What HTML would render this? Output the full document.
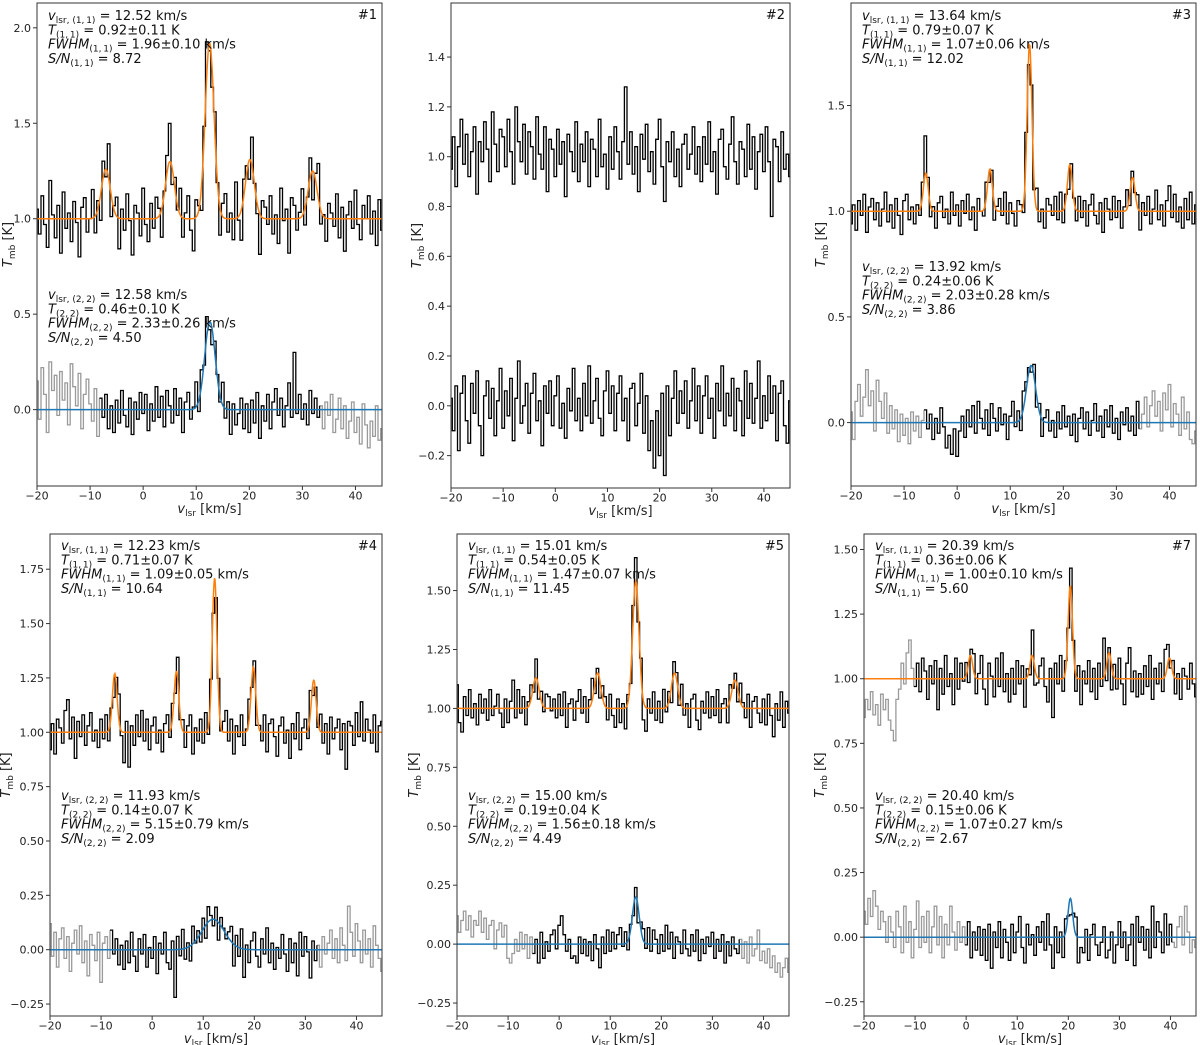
<!DOCTYPE html>
<html><head><meta charset="utf-8"><style>
html,body{margin:0;padding:0;background:#fff;}
svg{display:block;font-family:"DejaVu Sans","Liberation Sans",sans-serif;}
</style></head><body>
<svg id="fig" width="1200" height="1045" viewBox="0 0 1200 1045" xmlns="http://www.w3.org/2000/svg"></svg>
<script>
// ---- data (velocity grid: -20 km/s, step 0.5 km/s) ----
const vStart = -20, vStep = 0.5;
const hfOffsets = [-19.55, -7.47, 7.59, 19.41];
// fit params [vlsr, T, FWHM]
const p1Fit11 = [12.52, 0.92, 1.96], p1Sat = [0.26, 0.30, 0.31, 0.25], p1Fit22 = [12.58, 0.46, 2.33];
const p3Fit11 = [13.64, 0.79, 1.07], p3Sat = [0.18, 0.20, 0.22, 0.16], p3Fit22 = [13.92, 0.27, 2.03];
const p4Fit11 = [12.23, 0.71, 1.09], p4Sat = [0.27, 0.28, 0.30, 0.24], p4Fit22 = [11.93, 0.14, 5.15];
const p5Fit11 = [15.01, 0.54, 1.47], p5Sat = [0.13, 0.15, 0.15, 0.12], p5Fit22 = [15.00, 0.20, 1.56];
const p6Fit11 = [20.39, 0.36, 1.00], p6Sat = [0.09, 0.09, 0.10, 0.08], p6Fit22 = [20.40, 0.15, 1.07];
// residuals (0.01 K)
const p1Res11 = [5,-8,12,-3,-15,20,2,-10,7,-18,14,-5,3,-12,9,-2,-20,6,11,-7,0,15,-9,4,-14,8,-4,18,-11,2,10,-16,5,-6,13,-1,-19,7,3,-9,16,-3,-12,8,-5,11,4,-15,1,9,20,-8,6,-2,14,-10,3,12,-6,-17,9,2,-13,5,17,-4,-9,10,0,-14,7,13,-7,3,-11,19,-2,-16,8,4,-10,15,1,-5,-21,9,6,-3,12,-8,2,-13,16,-1,5,-18,11,7,-6,3,14,-9,-2,10,-15,4,18,-7,1,-12,8,3,-4,13,-10,6,-17,2,9,-5,15,-3,-11,7,0,12,-8,4,-14,10,-6];
const p1Res22 = [15,-5,22,8,-12,25,10,18,-3,20,5,14,-8,24,12,2,19,-10,8,16,3,-6,11,-14,6,-4,8,-10,2,-12,5,-7,10,-3,-9,6,-13,4,-5,9,-2,8,-11,3,-6,12,-4,7,-9,10,2,-7,11,-3,6,-12,4,9,-5,1,13,-6,8,-2,10,-4,-8,6,2,-3,12,-5,4,-13,3,-8,-2,6,-10,3,-12,5,-7,9,-15,2,-6,8,-10,4,11,-3,6,-9,2,14,-4,30,-2,8,-5,3,-8,10,-2,6,-4,2,-10,4,-3,8,-12,-5,6,-10,2,-15,-6,4,-12,-4,-18,3,-8,-20,-6,-14,2,-16,-10];
const p2Res11 = [-5,8,-12,4,15,-3,9,-8,2,12,-15,6,-2,14,3,-10,18,5,-6,11,8,-4,15,2,-11,20,6,-2,13,-7,10,4,-9,16,1,-5,12,-14,7,3,-8,11,-3,6,-16,9,2,-6,14,-10,5,-2,10,-12,7,3,-8,15,-4,1,-13,8,-5,12,2,-9,6,28,-3,10,-7,4,-14,9,-1,13,-6,2,-11,7,15,-4,-18,6,-2,10,-8,3,-12,5,9,-5,1,12,-7,4,-10,8,-3,14,-6,2,-15,7,11,-4,-9,5,16,-2,-11,6,3,-8,13,-5,8,-13,2,9,-6,12,-2,-24,7,4,-10,10,-5,1,-8];
const p2Res22 = [3,-10,8,-18,5,12,-6,-15,9,-3,14,-8,-20,4,10,-5,7,-12,2,15,-9,6,-4,11,-14,3,18,-7,0,9,-11,5,13,-6,2,-16,8,-3,10,-8,4,12,-9,1,-13,7,-2,15,-6,3,-10,9,-4,16,-7,2,11,-5,-12,6,14,-3,8,-10,5,12,-6,3,-14,7,9,-8,1,13,-11,4,-18,-6,-25,-2,-20,5,-28,8,-12,3,14,-7,6,-3,10,-9,2,15,-6,8,-11,4,12,-5,3,-13,9,-2,16,-8,5,-4,11,-10,7,2,-12,14,-5,9,-7,3,18,-9,4,-6,12,-3,8,-14,5,10,-8,-15,2];
const p3Res11 = [-6,3,-9,5,-2,8,-10,2,6,-4,4,-7,1,9,-5,3,-8,6,-2,-11,5,8,-4,2,-6,3,-3,6,18,4,-5,2,-8,4,7,-3,1,-6,9,-2,3,-7,5,-1,8,-4,2,-9,6,0,-3,7,-5,4,-8,2,6,-2,9,-6,4,-1,-7,5,3,-4,8,-6,2,-3,10,-5,1,-8,6,3,-2,7,-4,9,-6,2,-9,4,1,-5,7,-3,5,-7,3,8,-2,-6,4,-10,6,1,-4,7,-3,5,-8,2,9,-5,3,-1,6,-9,4,-2,7,-6,1,10,-4,3,-7,5,12,-3,8,-5,2,-8,6,-4,9,-6,3];
const p3Res22 = [5,-8,10,18,3,12,25,8,15,-4,20,10,2,14,-5,8,-3,6,-9,4,-6,2,-10,5,-4,3,-7,1,6,-3,4,-8,2,-5,7,-2,-12,-6,-15,-3,-16,-4,3,-7,6,-2,8,-5,10,2,-3,6,-6,9,2,-4,7,-1,4,-8,3,10,-2,5,-6,8,4,2,-3,6,-5,4,-8,2,6,-4,1,-7,5,-3,8,-2,3,-6,4,-9,2,7,-3,5,-6,1,9,-4,3,-7,6,-2,8,-5,2,-8,5,-1,7,-4,3,-6,10,-3,4,12,-2,8,15,3,10,-4,14,6,18,-2,9,4,-6,12,-3,5,-8,-10,-4];
const p4Res11 = [-8,4,-10,6,2,-5,10,15,-3,7,-12,5,-2,8,-6,3,9,-4,1,-7,6,-3,8,-5,2,-9,4,12,-2,-14,5,-16,3,-6,8,-2,10,-4,6,-8,3,7,-5,1,-9,4,8,-3,6,-6,10,-2,5,-7,3,8,-10,2,-4,6,-5,9,-3,4,-8,2,7,-1,5,10,-4,6,-10,3,-2,8,-6,1,9,-3,5,-7,2,-4,8,-9,4,6,-2,-11,3,7,-5,1,-12,4,-3,9,-8,2,6,-4,10,-6,3,-2,8,-5,4,-10,7,-3,2,6,-8,4,-17,5,3,-6,9,-2,14,-4,6,1,-5,8,-9,3,5];
const p4Res22 = [12,-3,8,-8,5,10,-4,6,-10,3,9,-2,11,-6,4,-12,7,2,-5,8,-15,3,6,-4,9,-2,5,-7,2,-9,4,-6,8,-3,-10,5,-2,7,-8,1,-4,6,-11,3,-2,8,-6,-9,4,-22,6,-3,9,-5,2,-7,8,-1,3,-4,5,-6,7,2,-3,6,-8,4,1,-2,3,7,-10,5,-4,9,-13,2,-6,4,8,-3,-8,5,-2,10,-6,3,-9,1,-4,7,-2,-10,5,-6,3,-12,8,-3,6,-1,-13,4,-5,2,-8,6,-2,3,9,-4,5,-6,10,2,-5,20,8,-3,12,4,-6,9,-2,5,-8,11,2,-4,-10];
const p5Res11 = [10,-6,-10,5,-3,8,-4,2,-7,6,-2,4,-5,8,-3,1,6,-2,-8,4,-6,3,12,-4,8,-2,5,-7,2,6,-3,8,-5,4,-2,6,5,-1,4,-4,6,-3,7,-8,2,4,-5,3,8,-2,5,-6,3,9,-4,2,-7,5,4,-5,6,-3,-8,4,-6,2,-9,3,-4,5,10,-3,6,-8,-10,4,-2,7,-5,3,-6,8,-2,4,-7,5,3,-4,9,-3,2,-8,4,6,-5,-9,3,-2,7,-4,5,-3,8,-6,2,4,-7,6,-1,3,-5,8,2,-4,6,-8,3,5,-2,-6,4,-7,6,-3,-12,2,-5,7,-8,3,-2];
const p5Res22 = [12,5,10,14,6,12,3,10,8,14,5,11,2,8,10,-2,6,9,3,8,-6,-8,-4,2,-3,5,-2,4,-6,3,-4,2,-8,5,-6,1,-3,4,6,-2,8,12,4,-3,2,-6,-5,-8,3,-4,2,-5,1,-7,4,-2,-10,3,-4,6,-3,5,-2,4,7,-1,5,-4,2,-3,4,-6,3,5,-2,7,-3,6,2,-4,4,-3,8,-2,5,-6,3,1,-4,6,-2,-5,4,-3,6,-7,2,-4,3,-1,5,-6,2,-3,4,-8,1,-5,3,-2,-4,2,-6,1,-8,3,-5,-2,6,-7,-3,-8,-2,-10,-5,-12,-8,-14,-10,-6,-12];
const p6Res11 = [-15,-8,-12,-5,-14,-10,-18,-6,-12,-8,-16,-20,-24,-8,-4,6,-2,10,15,4,-3,6,-5,8,3,-8,5,-2,7,-12,4,-6,9,-3,2,-10,8,-4,6,-1,5,-8,3,7,-6,2,9,-4,-10,6,1,-7,8,-3,10,-5,2,-9,4,-6,7,-2,5,-11,3,-4,10,-6,-2,5,8,-3,-9,4,-15,6,-2,9,-5,3,-4,8,2,-6,5,-10,3,-2,7,-5,4,-8,6,-3,15,-6,2,-9,5,-4,8,-2,-10,6,12,-5,3,-7,2,-6,5,-3,9,-8,4,-2,6,-5,10,7,-3,5,-6,2,-8,4,1,-4,6,-2,-7];
const p6Res22 = [10,5,15,8,18,12,3,10,6,-2,8,2,-4,10,4,-6,12,-2,6,-8,3,14,-4,8,-2,10,-6,4,12,-3,8,-8,5,-3,12,2,-5,6,-2,4,-3,6,-8,2,-5,4,-7,3,-9,5,-12,2,-4,6,-8,3,-2,-9,5,-6,2,8,-4,-10,5,-3,1,-7,4,-2,6,-5,9,-3,-12,4,-6,2,-8,5,-2,-6,3,7,-10,-4,-6,3,-9,1,5,-3,-7,-2,4,-8,-5,2,-10,-3,6,-4,2,-9,-3,5,-11,8,-2,4,-5,3,-8,12,-4,6,2,-6,9,-3,5,-2,-4,4,8,-3,12,2,-6,-1,-4];
// axis tick labels
const xTickLabels = ["\u221220","\u221210","0","10","20","30","40"];
const xTickValues = [-20,-10,0,10,20,30,40];
const yTicksP1 = [0.0,0.5,1.0,1.5,2.0];
const yTicksP2 = [-0.2,0.0,0.2,0.4,0.6,0.8,1.0,1.2,1.4];
const yTicksP3 = [0.0,0.5,1.0,1.5];
const yTicksB = [-0.25,0.00,0.25,0.50,0.75,1.00,1.25,1.50,1.75];

// ---- layout ----
const panels = [
 {id:"1",x0:37,x1:382,y0:3,y1:486,ymin:-0.40,ymax:2.13,yt:yTicksP1,dec:1,ylx:7,
  r11:p1Res11,r22:p1Res22,f11:p1Fit11,sat:p1Sat,f22:p1Fit22,g11:null,g22:[-8,33],t1:15,t2:294,
  L:[["12.52 km/s","0.92\u00b10.11 K","1.96\u00b10.10 km/s","8.72"],["12.58 km/s","0.46\u00b10.10 K","2.33\u00b10.26 km/s","4.50"]]},
 {id:"2",x0:451,x1:790,y0:3,y1:488,ymin:-0.33,ymax:1.617,yt:yTicksP2,dec:1,ylx:416,
  r11:p2Res11,r22:p2Res22,f11:null,sat:null,f22:null,g11:null,g22:null,t1:15,t2:0,L:null},
 {id:"3",x0:851,x1:1196,y0:3,y1:486,ymin:-0.30,ymax:1.985,yt:yTicksP3,dec:1,ylx:820,
  r11:p3Res11,r22:p3Res22,f11:p3Fit11,sat:p3Sat,f22:p3Fit22,g11:null,g22:[-6,34],t1:15,t2:266,
  L:[["13.64 km/s","0.79\u00b10.07 K","1.07\u00b10.06 km/s","12.02"],["13.92 km/s","0.24\u00b10.06 K","2.03\u00b10.28 km/s","3.86"]]},
 {id:"4",x0:50,x1:382,y0:534,y1:1016,ymin:-0.305,ymax:1.912,yt:yTicksB,dec:2,ylx:5,
  r11:p4Res11,r22:p4Res22,f11:p4Fit11,sat:p4Sat,f22:p4Fit22,g11:null,g22:[-8,32],t1:545,t2:795,
  L:[["12.23 km/s","0.71\u00b10.07 K","1.09\u00b10.05 km/s","10.64"],["11.93 km/s","0.14\u00b10.07 K","5.15\u00b10.79 km/s","2.09"]]},
 {id:"5",x0:457,x1:789,y0:534,y1:1016,ymin:-0.305,ymax:1.74,yt:yTicksB,dec:2,ylx:413,
  r11:p5Res11,r22:p5Res22,f11:p5Fit11,sat:p5Sat,f22:p5Fit22,g11:null,g22:[-5,35],t1:545,t2:795,
  L:[["15.01 km/s","0.54\u00b10.05 K","1.47\u00b10.07 km/s","11.45"],["15.00 km/s","0.19\u00b10.04 K","1.56\u00b10.18 km/s","4.49"]]},
 {id:"7",x0:864,x1:1196,y0:534,y1:1016,ymin:-0.305,ymax:1.56,yt:yTicksB,dec:2,ylx:819,
  r11:p6Res11,r22:p6Res22,f11:p6Fit11,sat:p6Sat,f22:p6Fit22,g11:[-10,46],g22:[0,40],t1:545,t2:795,
  L:[["20.39 km/s","0.36\u00b10.06 K","1.00\u00b10.10 km/s","5.60"],["20.40 km/s","0.15\u00b10.06 K","1.07\u00b10.27 km/s","2.67"]]}
];

const NS = "http://www.w3.org/2000/svg";
const fig = document.getElementById("fig");
function mk(tag, attrs, parent){ const e=document.createElementNS(NS,tag); for(const k in attrs) e.setAttribute(k,attrs[k]); (parent||fig).appendChild(e); return e; }
function gauss(v,c,a,w){ const s=w/2.3548; return a*Math.exp(-0.5*((v-c)/s)*((v-c)/s)); }
function model11(v,f,sat){ let y=gauss(v,f[0],f[1],f[2]); for(let k=0;k<4;k++) y+=gauss(v,f[0]+hfOffsets[k],sat[k],f[2]); return y; }
function model22(v,f){ return gauss(v,f[0],f[1],f[2]); }

panels.forEach((P,pi)=>{
  const sx=v=>P.x0+(v-(-20))/(65)*(P.x1-P.x0);
  const sy=y=>P.y1-(y-P.ymin)/(P.ymax-P.ymin)*(P.y1-P.y0);
  const g=mk("g",{});
  
  
  const cp=mk("clipPath",{id:"cp"+pi},g);
  mk("rect",{x:P.x0,y:P.y0,width:P.x1-P.x0,height:P.y1-P.y0},cp);
  const plot=mk("g",{"clip-path":"url(#cp"+pi+")"},g);

  function spectrum(res, offset, fitFn, grayR, name){
    const segs={k:"",gr:""};
    const n=res.length;
    const parts=[];
    for(let i=0;i<n;i++){
      const v=vStart+i*vStep;
      const y=offset+(fitFn?fitFn(v):0)+res[i]/100;
      const col=(grayR && (v<grayR[0]||v>grayR[1]))?"gr":"k";
      parts.push({v,y,col});
    }
    let cur=null;
    parts.forEach((p)=>{
      const xa=sx(p.v-vStep/2), xb=sx(p.v+vStep/2), yy=sy(p.y);
      if(!cur||cur.col!==p.col){
        if(cur){ cur.d+=" L"+xa.toFixed(1)+","+yy.toFixed(1); segs[cur.col]+=cur.d+" "; }
        cur={col:p.col,d:"M"+xa.toFixed(1)+","+yy.toFixed(1)};
      } else cur.d+=" L"+xa.toFixed(1)+","+yy.toFixed(1);
      cur.d+=" L"+xb.toFixed(1)+","+yy.toFixed(1);
    });
    if(cur) segs[cur.col]+=cur.d;
    if(segs.gr){ const e=mk("path",{d:segs.gr,fill:"none",stroke:"#9a9a9a","stroke-width":1.3},plot);
      
       }
    const e=mk("path",{d:segs.k,fill:"none",stroke:"#000","stroke-width":1.3},plot);
    
    
  }
  function fitLine(fn, offset, color, name){
    let d="";
    for(let v=-20;v<=45.001;v+=0.1){ d+=(d?" L":"M")+sx(v).toFixed(1)+","+sy(offset+fn(v)).toFixed(1); }
    const e=mk("path",{d,fill:"none",stroke:color,"stroke-width":1.5},plot);
    
    
  }
  const f11=P.f11?(v=>model11(v,P.f11,P.sat)):null;
  const f22=P.f22?(v=>model22(v,P.f22)):null;
  spectrum(P.r11,1.0,f11,P.g11,"spectrum-11");
  spectrum(P.r22,0.0,f22,P.g22,"spectrum-22");
  if(f11) fitLine(f11,1.0,"#ff7f0e","fit-11");
  if(f22) fitLine(f22,0.0,"#1f77b4","fit-22");

  const fr=mk("rect",{x:P.x0,y:P.y0,width:P.x1-P.x0,height:P.y1-P.y0,fill:"none",stroke:"#333","stroke-width":1},g);
  
  
  xTickValues.forEach((tv,i)=>{
    const x=sx(tv);
    mk("line",{x1:x,x2:x,y1:P.y1,y2:P.y1+4,stroke:"#333","stroke-width":1},g);
    const t=mk("text",{x:x,y:P.y1+13.5,"text-anchor":"middle","font-size":11,fill:"#222"},g);
    t.textContent=xTickLabels[i];
    
    
  });
  P.yt.forEach(tv=>{
    const y=sy(tv);
    if(y<P.y0-0.5||y>P.y1+0.5) return;
    mk("line",{x1:P.x0-4,x2:P.x0,y1:y,y2:y,stroke:"#333","stroke-width":1},g);
    const t=mk("text",{x:P.x0-6,y:y+4,"text-anchor":"end","font-size":11,fill:"#222"},g);
    t.textContent=(tv<0?"\u2212":"")+Math.abs(tv).toFixed(P.dec);
    
    
  });
  const xl=mk("text",{x:(P.x0+P.x1)/2,y:P.y1+27,"text-anchor":"middle","font-size":13,fill:"#222"},g);
  xl.innerHTML='<tspan font-style="italic">v</tspan><tspan font-size="9" dy="3">lsr</tspan><tspan dy="-3"> [km/s]</tspan>';
  
  
  const cy=(P.y0+P.y1)/2;
  const yl=mk("text",{x:0,y:0,"text-anchor":"middle","font-size":13,fill:"#222",transform:"translate("+(P.ylx+5)+","+cy+") rotate(-90)"},g);
  yl.innerHTML='<tspan font-style="italic">T</tspan><tspan font-size="9" dy="3">mb</tspan><tspan dy="-3"> [K]</tspan>';
  
  
  const pn=mk("text",{x:P.x1-5,y:P.y0+16,"text-anchor":"end","font-size":13,fill:"#111"},g);
  pn.textContent="#"+P.id;
  
  
  if(P.L){
    [["(1,\u20091)",P.t1,P.L[0]],["(2,\u20092)",P.t2,P.L[1]]].forEach(([tr,ty,vals],bi)=>{
      const sub='<tspan font-size="9" dy="3">';
      const lines=[
        '<tspan font-style="italic">v</tspan>'+sub+'lsr, '+tr+'</tspan><tspan dy="-3"> = '+vals[0]+'</tspan>',
        '<tspan font-style="italic">T</tspan>'+sub+tr+'</tspan><tspan dy="-3"> = '+vals[1]+'</tspan>',
        '<tspan font-style="italic">FWHM</tspan>'+sub+tr+'</tspan><tspan dy="-3"> = '+vals[2]+'</tspan>',
        '<tspan font-style="italic">S/N</tspan>'+sub+tr+'</tspan><tspan dy="-3"> = '+vals[3]+'</tspan>'];
      lines.forEach((h,li)=>{
        const t=mk("text",{x:P.x0+11,y:ty+5+li*14.3,"font-size":13,fill:"#111"},g);
        t.innerHTML=h;
        
        
      });
    });
  }
});
</script>
</body></html>
